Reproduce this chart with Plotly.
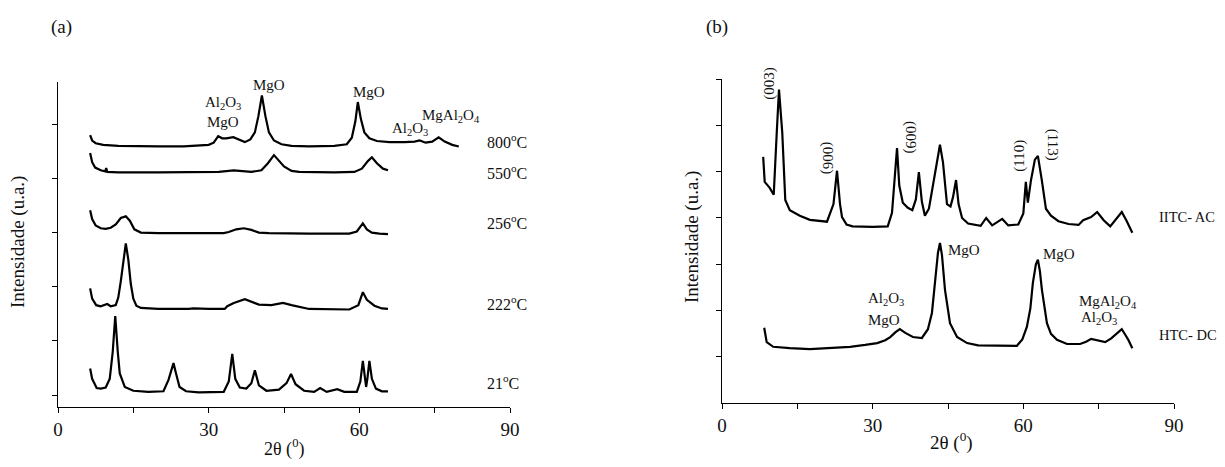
import plotly.graph_objects as go

# ---------------- Panel (a): XRD at different temperatures ----------------
tt_800 = [6.4, 6.8, 7.5, 9, 12, 16, 20, 25, 28, 30, 31, 31.9, 32.7, 33.5, 34.9, 36.0, 37.2, 38.3, 39.2, 39.9,
          40.6, 41.3, 42.0, 43.0, 44.5, 46.5, 50, 55, 56.5, 57.5, 58.5, 59.2, 59.7, 60.3, 61.0, 62.0, 63.5, 66,
          69, 71, 72.0, 73.2, 74.5, 75.8, 77.0, 78.5, 79.8]
i_800 = [4.80, 4.70, 4.65, 4.62, 4.60, 4.59, 4.59, 4.59, 4.60, 4.62, 4.66, 4.78, 4.74, 4.74, 4.76, 4.72, 4.67,
         4.72, 4.85, 5.15, 5.53, 5.15, 4.85, 4.70, 4.63, 4.60, 4.59, 4.60, 4.61, 4.63, 4.75, 5.05, 5.41, 5.10,
         4.85, 4.74, 4.69, 4.67, 4.67, 4.68, 4.70, 4.66, 4.68, 4.76, 4.68, 4.62, 4.59]

tt_550 = [6.4, 6.8, 7.4, 8.5, 9.4, 9.6, 9.8, 12, 20, 28, 32, 35, 37, 38.5, 40.5, 41.8, 43.0, 44.0, 45.0, 46.5,
          48, 55, 59, 60.5, 61.7, 62.5, 63.5, 64.7, 65.7]
i_550 = [4.47, 4.30, 4.20, 4.15, 4.13, 4.19, 4.12, 4.11, 4.11, 4.11, 4.12, 4.15, 4.14, 4.12, 4.15, 4.28, 4.43,
         4.33, 4.22, 4.14, 4.12, 4.11, 4.12, 4.18, 4.32, 4.39, 4.28, 4.18, 4.15]

tt_256 = [6.4, 6.8, 7.5, 8.5, 9.5, 10.5, 11.5, 12.5, 13.5, 14.3, 15.2, 16.5, 20, 28, 33, 34, 35.5, 37, 38.5,
          40, 42, 50, 58, 59.5, 60.7, 61.5, 62.5, 64, 65.7]
i_256 = [3.41, 3.25, 3.13, 3.08, 3.07, 3.09, 3.15, 3.27, 3.30, 3.22, 3.06, 3.00, 2.99, 2.99, 2.99, 3.01, 3.06,
         3.08, 3.05, 3.00, 2.99, 2.98, 2.98, 3.02, 3.17, 3.06, 3.00, 2.98, 2.97]

tt_222 = [6.4, 6.8, 7.6, 8.5, 9.8, 10.5, 11.5, 12.0, 12.5, 13.0, 13.5, 14.0, 14.5, 15.0, 15.6, 16.5, 20, 26,
          27, 30, 33.2, 33.7, 35, 37.2, 38.5, 40, 42.5, 44.8, 46.5, 48.2, 50, 58, 59.8, 60.7, 61.5, 63, 64.5, 65.7]
i_222 = [1.97, 1.78, 1.66, 1.64, 1.68, 1.64, 1.66, 1.80, 2.10, 2.50, 2.80, 2.50, 2.05, 1.78, 1.65, 1.61, 1.59,
         1.59, 1.60, 1.59, 1.59, 1.64, 1.70, 1.77, 1.72, 1.67, 1.66, 1.70, 1.66, 1.62, 1.59, 1.58, 1.66, 1.90,
         1.76, 1.65, 1.60, 1.59]

tt_21 = [6.4, 6.8, 7.7, 8.5, 9.5, 10.3, 10.9, 11.4, 11.9, 12.3, 13.3, 15, 18, 21, 22.0, 22.5, 23.0, 23.5, 24.2,
         25.5, 28, 33, 34.0, 34.7, 35.3, 36.2, 37.5, 38.5, 39.2, 40, 41.5, 44, 45.5, 46.4, 47.3, 49, 51, 52.2,
         53.5, 55.6, 57, 59.5, 60.2, 60.7, 61.1, 61.35, 61.6, 62.0, 62.5, 63.3, 64.5, 65.7]
i_21 = [0.49, 0.30, 0.13, 0.12, 0.14, 0.30, 0.80, 1.46, 0.80, 0.40, 0.15, 0.08, 0.06, 0.07, 0.28, 0.45, 0.59,
        0.40, 0.15, 0.07, 0.05, 0.06, 0.25, 0.76, 0.30, 0.14, 0.12, 0.22, 0.46, 0.18, 0.08, 0.10, 0.22, 0.39,
        0.20, 0.08, 0.06, 0.13, 0.06, 0.11, 0.06, 0.06, 0.25, 0.63, 0.30, 0.15, 0.30, 0.63, 0.30, 0.12, 0.07, 0.07]

# ---------------- Panel (b): HTC-AC and HTC-DC ----------------
tt_ac = [8.2, 8.5, 9.5, 10.3, 10.9, 11.35, 12.0, 12.6, 13.5, 15.5, 17.5, 19.5, 20.9, 22.2, 22.9, 23.5, 23.9,
         24.8, 26, 30, 33.0, 33.85, 34.85, 35.3, 36.0, 37.0, 37.9, 38.6, 39.2, 39.8, 40.4, 41.2, 42.0, 42.8,
         43.4, 44.0, 44.8, 45.5, 46.0, 46.6, 47.1, 47.8, 49, 51.5, 52.6, 53.8, 55.8, 57, 59, 60.0, 60.5, 60.9,
         61.5, 62.3, 62.9, 63.7, 64.5, 65.5, 67, 69, 71, 71.9, 73.5, 74.7, 76, 77.3, 78.5, 79.6, 80.5, 81.7]
i_ac = [4.32, 3.78, 3.65, 3.50, 4.84, 5.77, 4.84, 3.39, 3.17, 3.05, 2.96, 2.93, 2.92, 3.30, 4.02, 3.30, 3.02,
        2.86, 2.82, 2.81, 2.82, 3.11, 4.51, 3.70, 3.33, 3.22, 3.17, 3.40, 3.99, 3.35, 3.05, 3.20, 3.70, 4.25,
        4.58, 4.20, 3.30, 3.25, 3.45, 3.82, 3.30, 3.00, 2.88, 2.83, 3.00, 2.84, 2.98, 2.84, 2.86, 3.10, 3.78,
        3.33, 3.80, 4.26, 4.34, 3.80, 3.20, 3.05, 2.93, 2.87, 2.85, 2.95, 3.02, 3.13, 2.95, 2.82, 2.98, 3.13,
        2.95, 2.68]

tt_dc = [8.4, 8.9, 10.2, 13.5, 17.5, 21.5, 25.5, 28.5, 30.9, 32.5, 33.5, 34.5, 35.4, 36.5, 38.0, 39.8, 41.0,
         41.8, 42.5, 43.0, 43.4, 43.8, 44.4, 45.4, 46.8, 48.8, 51, 55, 58.7, 59.8, 60.7, 61.4, 61.9, 62.5, 62.9,
         63.3, 63.7, 64.7, 65.5, 66.7, 68.7, 71.3, 72.5, 73.5, 74.8, 76.3, 77.5, 78.7, 79.6, 80.3, 80.9, 81.7]
i_dc = [0.63, 0.32, 0.22, 0.19, 0.17, 0.19, 0.22, 0.26, 0.30, 0.36, 0.43, 0.53, 0.60, 0.52, 0.43, 0.41, 0.60,
        0.95, 1.70, 2.25, 2.46, 2.20, 1.45, 0.73, 0.43, 0.30, 0.25, 0.24, 0.24, 0.38, 0.65, 1.05, 1.60, 2.00,
        2.10, 1.85, 1.45, 0.73, 0.50, 0.37, 0.28, 0.28, 0.33, 0.39, 0.36, 0.32, 0.40, 0.52, 0.60, 0.48, 0.37,
        0.19]

x_tickvals = [0, 30, 60, 90]
x_minor_tickvals = [15, 45, 75]

SERIF = "Liberation Serif"
LINE = dict(color="black", width=2.2)

fig = go.Figure()
for tt, ii in [(tt_800, i_800), (tt_550, i_550), (tt_256, i_256), (tt_222, i_222), (tt_21, i_21)]:
    fig.add_trace(go.Scatter(x=tt, y=ii, mode="lines", line=LINE, xaxis="x", yaxis="y",
                             showlegend=False, hoverinfo="skip"))
for tt, ii in [(tt_ac, i_ac), (tt_dc, i_dc)]:
    fig.add_trace(go.Scatter(x=tt, y=ii, mode="lines", line=LINE, xaxis="x2", yaxis="y2",
                             showlegend=False, hoverinfo="skip"))

# page body has an 8px margin, so the figure is placed 8px right/down in the window;
# the figure is sized so the page does not overflow (no scrollbars)
OFF = 8
W, H = 1225 - OFF, 467 - 2 * OFF


def px(x):
    return (x - OFF) / W


def py(y):
    return 1 - (y - OFF) / H


axis_common = dict(showline=True, linecolor="black", linewidth=1, ticks="outside", ticklen=5,
                   tickcolor="black", tickwidth=1, showgrid=False, zeroline=False, automargin=False,
                   tickfont=dict(family=SERIF, size=19, color="#111"))
x_common = dict(range=[0, 90], tickvals=x_tickvals, ticktext=[str(v) for v in x_tickvals],
                minor=dict(tickvals=x_minor_tickvals, ticks="outside", ticklen=5, tickcolor="black",
                           tickwidth=1, showgrid=False))

fig.update_layout(
    width=W, height=H, margin=dict(l=0, r=0, t=0, b=0, pad=0, autoexpand=False),
    paper_bgcolor="white", plot_bgcolor="white", showlegend=False,
    xaxis=dict(domain=[px(58), px(510)], anchor="y", **x_common, **axis_common),
    yaxis=dict(domain=[py(407), py(82)], range=[-0.22, 5.78], tickvals=[0, 1, 2, 3, 4, 5],
               showticklabels=False, anchor="x", **axis_common),
    xaxis2=dict(domain=[px(722), px(1174)], anchor="y2", **x_common, **axis_common),
    yaxis2=dict(domain=[py(403.3), py(79)], range=[-1, 6], tickvals=[0, 1, 2, 3, 4, 5, 6],
                showticklabels=False, anchor="x2", **axis_common),
)

ann = []


def lab(text, x, y, xref, yref, size=15, angle=0, xanchor="center"):
    ann.append(dict(text=text, x=x, y=y, xref=xref, yref=yref, showarrow=False, textangle=angle,
                    xanchor=xanchor, yanchor="middle", font=dict(family=SERIF, size=size, color="#111")))


# panel titles and axis titles (paper coords)
lab("(a)", px(61), py(27), "paper", "paper", size=19)
lab("(b)", px(717), py(27), "paper", "paper", size=19)
lab("Intensidade (u.a.)", px(18), py(242), "paper", "paper", size=19, angle=-90)
lab("Intensidade (u.a.)", px(692), py(237), "paper", "paper", size=19, angle=-90)
lab("2θ (<sup>0</sup>)", px(284), py(448), "paper", "paper", size=18)
lab("2θ (<sup>0</sup>)", px(951), py(441), "paper", "paper", size=19)

# panel (a) peak labels
lab("Al<sub>2</sub>O<sub>3</sub>", 32.9, 5.40, "x", "y")
lab("MgO", 32.9, 5.04, "x", "y")
lab("MgO", 42.0, 5.72, "x", "y")
lab("MgO", 61.9, 5.59, "x", "y")
lab("Al<sub>2</sub>O<sub>3</sub>", 70.1, 4.92, "x", "y")
lab("MgAl<sub>2</sub>O<sub>4</sub>", 78.3, 5.16, "x", "y")
for t, yv in [("800<sup>o</sup>C", 4.70), ("550<sup>o</sup>C", 4.11), ("256<sup>o</sup>C", 3.19),
              ("222<sup>o</sup>C", 1.70), ("21<sup>o</sup>C", 0.24)]:
    lab(t, 85.0, yv, "x", "y", size=16, xanchor="left")

# panel (b) peak labels
lab("(003)", 9.56, 5.90, "x2", "y2", angle=-90)
lab("(006)", 20.9, 4.28, "x2", "y2", angle=90)
lab("(009)", 37.4, 4.73, "x2", "y2", angle=90)
lab("(110)", 59.3, 4.34, "x2", "y2", angle=-90)
lab("(113)", 65.7, 4.58, "x2", "y2", angle=90)
lab("IITC- AC", 86.7, 3.02, "x2", "y2", size=14.5, xanchor="left")
lab("HTC- DC", 86.7, 0.47, "x2", "y2", size=14.5, xanchor="left")
lab("MgO", 48.2, 2.31, "x2", "y2")
lab("MgO", 67.1, 2.22, "x2", "y2")
lab("MgAl<sub>2</sub>O<sub>4</sub>", 76.9, 1.19, "x2", "y2")
lab("Al<sub>2</sub>O<sub>3</sub>", 75.1, 0.84, "x2", "y2")
lab("Al<sub>2</sub>O<sub>3</sub>", 32.7, 1.25, "x2", "y2")
lab("MgO", 32.3, 0.80, "x2", "y2")

fig.update_layout(annotations=ann)
fig.write_html("out.html")
